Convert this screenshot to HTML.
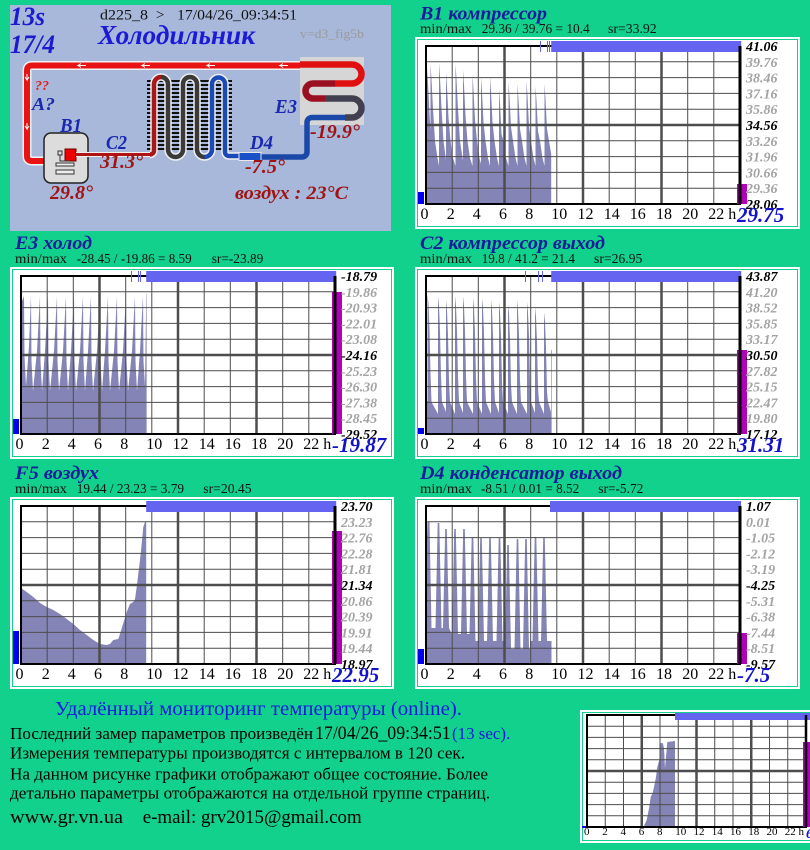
<!DOCTYPE html>
<html><head><meta charset="utf-8">
<style>html,body{margin:0;padding:0;background:#12d18d;width:810px;height:850px;overflow:hidden}svg{display:block}</style>
</head><body>
<svg width="810" height="850" viewBox="0 0 810 850" xmlns="http://www.w3.org/2000/svg" xmlns:xlink="http://www.w3.org/1999/xlink" font-family="'Liberation Serif', serif">
<defs>
<pattern id="hl" width="4" height="4" patternUnits="userSpaceOnUse"><rect width="4" height="2" fill="#111"/></pattern>
<g id="grid" fill="none">
<path stroke="#4d4d4d" stroke-width="1" d="M26.2,0V158M52.3,0V158M104.7,0V158M130.8,0V158M183.2,0V158M209.3,0V158M261.7,0V158M287.8,0V158M0,15.8H314M0,31.6H314M0,47.4H314M0,63.2H314M0,94.8H314M0,110.6H314M0,126.4H314M0,142.2H314"/>
<path stroke="#4d4d4d" stroke-width="2.5" d="M78.5,0V158M157,0V158M235.5,0V158M0,79H314"/>
<rect x="0" y="0" width="314" height="158" stroke="#000" stroke-width="2"/>
</g>
</defs>
<rect width="810" height="850" fill="#12d18d"/>

<!-- ===== Diagram ===== -->
<rect x="10" y="5" width="381" height="226" fill="#a8b8da"/>
<rect x="147" y="79" width="85" height="72" fill="url(#hl)"/>
<path d="M300,65.5H32Q27,65.5 27,70.5V156Q27,161 32,161H46" fill="none" stroke="#f2f2f2" stroke-width="9"/>
<path d="M300,65.5H32Q27,65.5 27,70.5V156Q27,161 32,161H46" fill="none" stroke="#e81414" stroke-width="6"/>
<path d="M86,65.5h-8l3,-2m-3,2l3,2M150,65.5h-8l3,-2m-3,2l3,2M215,65.5h-8l3,-2m-3,2l3,2M288,65.5h-8l3,-2m-3,2l3,2M27,74v6l-2,-3m2,3l2,-3M27,123v6l-2,-3m2,3l2,-3" fill="none" stroke="#fff" stroke-width="1"/>
<rect x="300" y="57" width="64" height="68" fill="#d6d6d6"/>
<path d="M300,64.5H352A9.5,9.5 0 0 1 352,83.5H335" fill="none" stroke="#e01010" stroke-width="6.5"/>
<path d="M335,83.5H313A7.5,7.5 0 0 0 313,98.5H325" fill="none" stroke="#9a1020" stroke-width="6.5"/>
<path d="M325,98.5H352A9.5,9.5 0 0 1 352,117.5H345" fill="none" stroke="#404050" stroke-width="6.5"/>
<path d="M345,117.5H312A5,5 0 0 0 307,122.5V152A5,5 0 0 1 302,157H261" fill="none" stroke="#1a48a8" stroke-width="5.5"/>
<!-- compressor -->
<rect x="44" y="133" width="44" height="50" rx="7" fill="#dcdcdc" stroke="#222" stroke-width="1.5"/>
<rect x="65" y="149" width="11" height="12" fill="#e00" stroke="#600" stroke-width="1"/>
<rect x="58" y="151" width="4" height="4" fill="none" stroke="#333" stroke-width="1"/>
<path d="M60,155V161H70" fill="none" stroke="#333" stroke-width="1"/>
<rect x="56" y="163" width="18" height="3" fill="#eee" stroke="#333" stroke-width="1"/>
<rect x="56" y="170" width="18" height="4" fill="#eee" stroke="#333" stroke-width="1"/>
<!-- C2 line + condenser tubes -->
<path d="M76,154.5H150" fill="none" stroke="#f0f0f0" stroke-width="5"/>
<path d="M150,154.5A4,4 0 0 0 154,150.5V84A7,7 0 0 1 168,84V149.5A7.5,7.5 0 0 0 183,149.5V84A7,7 0 0 1 197,84V149.5A7.5,7.5 0 0 0 212,149.5V84A6.5,6.5 0 0 1 225,84V152A4,4 0 0 0 229,156H240" fill="none" stroke="#f0f0f0" stroke-width="7.5"/>
<path d="M76,154.5H150" fill="none" stroke="#b01515" stroke-width="3"/>
<path d="M150,154.5A4,4 0 0 0 154,150.5V84A7,7 0 0 1 161,77" fill="none" stroke="#a81818" stroke-width="4.5"/>
<path d="M161,77A7,7 0 0 1 168,84V149.5A7.5,7.5 0 0 0 183,149.5V84A7,7 0 0 1 197,84V149.5A7.5,7.5 0 0 0 204.5,157" fill="none" stroke="#3a3a3a" stroke-width="4.5"/>
<path d="M204.5,157A7.5,7.5 0 0 0 212,149.5V84A6.5,6.5 0 0 1 225,84V152A4,4 0 0 0 229,156H240" fill="none" stroke="#1a4ab8" stroke-width="4.5"/>
<rect x="239" y="152.5" width="22" height="8" fill="#1a50c8" stroke="#e8e8e8" stroke-width="1"/>
<!-- diagram texts -->
<g font-weight="bold" font-style="italic">
<text x="10" y="25" font-size="26" fill="#1a1ad0" textLength="35" lengthAdjust="spacingAndGlyphs">13s</text>
<text x="10" y="53" font-size="26" fill="#1a1ad0" textLength="45" lengthAdjust="spacingAndGlyphs">17/4</text>
<text x="98" y="44" font-size="27" fill="#1a1ad8" textLength="157" lengthAdjust="spacingAndGlyphs">Холодильник</text>
<text x="35" y="90" font-size="14" fill="#e02020">??</text>
<text x="32" y="110" font-size="18" fill="#1a2aa8" textLength="23" lengthAdjust="spacingAndGlyphs">A?</text>
<text x="60" y="132" font-size="20" fill="#1a28b0" textLength="22" lengthAdjust="spacingAndGlyphs">B1</text>
<text x="106" y="149" font-size="20" fill="#1a28b0" textLength="21" lengthAdjust="spacingAndGlyphs">C2</text>
<text x="250" y="149" font-size="20" fill="#1a28b0" textLength="23" lengthAdjust="spacingAndGlyphs">D4</text>
<text x="275" y="113" font-size="20" fill="#1a28b0" textLength="22" lengthAdjust="spacingAndGlyphs">E3</text>
<text x="100" y="168" font-size="20" fill="#a01414" textLength="43" lengthAdjust="spacingAndGlyphs">31.3°</text>
<text x="50" y="199" font-size="20" fill="#a01414" textLength="43" lengthAdjust="spacingAndGlyphs">29.8°</text>
<text x="245" y="173" font-size="20" fill="#a01414" textLength="40" lengthAdjust="spacingAndGlyphs">-7.5°</text>
<text x="310" y="138" font-size="20" fill="#a01414" textLength="50" lengthAdjust="spacingAndGlyphs">-19.9°</text>
<text x="235" y="199" font-size="19" fill="#a01414" textLength="113" lengthAdjust="spacingAndGlyphs">воздух : 23°C</text>
</g>
<g font-size="15" fill="#111">
<text x="100" y="19.5" textLength="48" lengthAdjust="spacingAndGlyphs">d225_8</text>
<text x="156" y="19.5">&gt;</text>
<text x="177" y="19.5" textLength="120" lengthAdjust="spacingAndGlyphs">17/04/26_09:34:51</text>
</g>
<text x="300" y="38" font-size="13" fill="#9a9a9a" textLength="64" lengthAdjust="spacingAndGlyphs">v=d3_fig5b</text>

<!-- ===== Chart titles ===== -->
<g font-weight="bold" font-style="italic" font-size="19" fill="#1a1a9c">
<text x="420" y="19.5" textLength="127" lengthAdjust="spacingAndGlyphs">B1 компрессор</text>
<text x="15" y="249" textLength="77" lengthAdjust="spacingAndGlyphs">E3 холод</text>
<text x="420" y="249" textLength="185" lengthAdjust="spacingAndGlyphs">C2 компрессор выход</text>
<text x="15" y="479" textLength="84" lengthAdjust="spacingAndGlyphs">F5 воздух</text>
<text x="420" y="479" textLength="202" lengthAdjust="spacingAndGlyphs">D4 конденсатор выход</text>
</g>
<g font-size="14" fill="#111">
<text x="420" y="33" textLength="52" lengthAdjust="spacingAndGlyphs">min/max</text>
<text x="481.7" y="33" textLength="108" lengthAdjust="spacingAndGlyphs">29.36 / 39.76 = 10.4</text>
<text x="608" y="33" textLength="48.7" lengthAdjust="spacingAndGlyphs">sr=33.92</text>
<text x="15" y="263" textLength="52" lengthAdjust="spacingAndGlyphs">min/max</text>
<text x="76.7" y="263" textLength="115" lengthAdjust="spacingAndGlyphs">-28.45 / -19.86 = 8.59</text>
<text x="211.7" y="263" textLength="51.6" lengthAdjust="spacingAndGlyphs">sr=-23.89</text>
<text x="420" y="263" textLength="52" lengthAdjust="spacingAndGlyphs">min/max</text>
<text x="481.7" y="263" textLength="93.3" lengthAdjust="spacingAndGlyphs">19.8 / 41.2 = 21.4</text>
<text x="594" y="263" textLength="48.3" lengthAdjust="spacingAndGlyphs">sr=26.95</text>
<text x="15" y="493" textLength="52" lengthAdjust="spacingAndGlyphs">min/max</text>
<text x="76.7" y="493" textLength="107.3" lengthAdjust="spacingAndGlyphs">19.44 / 23.23 = 3.79</text>
<text x="203.3" y="493" textLength="48.3" lengthAdjust="spacingAndGlyphs">sr=20.45</text>
<text x="420" y="493" textLength="52" lengthAdjust="spacingAndGlyphs">min/max</text>
<text x="481" y="493" textLength="98.3" lengthAdjust="spacingAndGlyphs">-8.51 / 0.01 = 8.52</text>
<text x="598.3" y="493" textLength="45" lengthAdjust="spacingAndGlyphs">sr=-5.72</text>
</g>

<!-- ===== Panels ===== -->
<g>
<rect x="415" y="37" width="385" height="192" fill="#fff"/><rect x="417.5" y="39.5" width="380" height="187" fill="none" stroke="#12d18d"/>
<rect x="10" y="267" width="384" height="192" fill="#fff"/><rect x="12.5" y="269.5" width="379" height="187" fill="none" stroke="#12d18d"/>
<rect x="415" y="267" width="385" height="192" fill="#fff"/><rect x="417.5" y="269.5" width="380" height="187" fill="none" stroke="#12d18d"/>
<rect x="10" y="497" width="384" height="192" fill="#fff"/><rect x="12.5" y="499.5" width="379" height="187" fill="none" stroke="#12d18d"/>
<rect x="415" y="497" width="385" height="192" fill="#fff"/><rect x="417.5" y="499.5" width="380" height="187" fill="none" stroke="#12d18d"/>
<rect x="580" y="710" width="232" height="133" fill="#fff"/><rect x="582.5" y="712.5" width="232" height="128" fill="none" stroke="#12d18d"/>
</g>

<!-- ===== B1 ===== -->
<g transform="translate(426,46)">
<path fill="#8484b6" d="M0,158 L0,80 L1,80 L1,22 L2,37 L3.5,67 L4.5,85 L4.5,18 L5.5,33 L7,63 L9,95 L11.5,112 L13,120 L13,17 L14,32 L15.5,62 L17.5,95 L20,114 L20,26 L21,41 L22.5,71 L24.5,95 L27,112 L29.5,120 L29.5,18 L30.5,33 L32,63 L34,95 L36.5,112 L37,114 L37,24 L38,39 L39.5,69 L41.5,95 L44,112 L46.5,120 L46.5,29 L47.5,44 L49,74 L51,95 L53.5,112 L55,118 L55,31 L56,46 L57.5,76 L59.5,95 L62,112 L64,120 L64,31 L65,46 L66.5,76 L68.5,95 L71,112 L73,120 L73,43 L74,58 L75.5,88 L77.5,95 L80,112 L82.5,120 L82.5,36 L83.5,51 L85,81 L87,95 L89.5,112 L91.5,120 L91.5,38 L92.5,53 L94,83 L96,95 L98.5,112 L100.5,120 L100.5,35 L101.5,50 L103,80 L105,95 L107.5,112 L109.5,120 L109.5,40 L110.5,55 L112,85 L114,95 L116.5,112 L118.5,120 L118.5,38 L119.5,53 L121,83 L123,95 L125.2,108 L125.2,158 Z"/>
<use xlink:href="#grid" href="#grid"/>
<rect x="125.2" y="-5" width="190" height="11" fill="#6464f0"/>
<rect x="114" y="-5" width="1" height="11" fill="#6464f0"/><rect x="121" y="-5" width="1" height="11" fill="#6464f0"/><rect x="123" y="-5" width="1" height="11" fill="#6464f0"/>
<rect x="311" y="138" width="10" height="20" fill="#b000b8"/>
<path d="M314,0V158" stroke="#000" stroke-width="3"/>
<rect x="-8" y="146" width="6" height="12" fill="#0000f0"/>
<g font-size="14" font-weight="bold" font-style="italic" fill="#a3a3a3">
<text x="320" y="5" fill="#000">41.06</text><text x="320" y="20.8">39.76</text><text x="320" y="36.6">38.46</text><text x="320" y="52.4">37.16</text><text x="320" y="68.2">35.86</text><text x="320" y="84" fill="#000">34.56</text><text x="320" y="99.8">33.26</text><text x="320" y="115.6">31.96</text><text x="320" y="131.4">30.66</text><text x="320" y="147.2">29.36</text><text x="320" y="163" fill="#000">28.06</text>
</g>
<g font-size="16" fill="#000"><text x="-5.5" y="173">0</text><text x="20.7" y="173">2</text><text x="46.8" y="173">4</text><text x="73" y="173">6</text><text x="99.2" y="173">8</text><text x="125.3" y="173">10</text><text x="151.5" y="173">12</text><text x="177.7" y="173">14</text><text x="203.8" y="173">16</text><text x="230" y="173">18</text><text x="256.2" y="173">20</text><text x="282.3" y="173">22 h</text></g>
<text x="311" y="176" font-size="21" font-weight="bold" font-style="italic" fill="#1212cc">29.75</text>
</g>

<!-- ===== E3 ===== -->
<g transform="translate(21,276)">
<path fill="#8484b6" d="M0,158 L0,60 L1,25 L3,20 L3.5,80 L5,110 L8,70 L10,19 L10.5,85 L12,115 L16,75 L19,20 L19.5,85 L21,115 L24,75 L27,20 L27.5,85 L29,115 L33,75 L36,20 L36.5,85 L38,115 L42,75 L45,20 L45.5,85 L47,115 L50,75 L53,20 L53.5,85 L55,115 L59,75 L62,20 L62.5,85 L64,115 L67,75 L70,20 L70.5,85 L72,115 L76,75 L79,20 L79.5,85 L81,115 L84,75 L87,20 L87.5,85 L89,115 L93,75 L96,20 L96.5,85 L98,115 L102,75 L105,20 L105.5,85 L107,115 L111,75 L114,20 L114.5,85 L116,115 L119,75 L122,20 L122.5,85 L124,110 L125.2,20 L125.6,16 L125.6,158 Z"/>
<use xlink:href="#grid" href="#grid"/>
<rect x="125.2" y="-5" width="190" height="11" fill="#6464f0"/>
<rect x="110" y="-5" width="1" height="11" fill="#6464f0"/><rect x="117" y="-5" width="1" height="11" fill="#6464f0"/><rect x="119" y="-5" width="1" height="11" fill="#6464f0"/>
<rect x="311" y="16" width="10" height="142" fill="#b000b8"/>
<path d="M314,0V158" stroke="#000" stroke-width="3"/>
<rect x="-8" y="143" width="6" height="15" fill="#0000f0"/>
<g font-size="14" font-weight="bold" font-style="italic" fill="#a3a3a3">
<text x="320" y="5" fill="#000">-18.79</text><text x="320" y="20.8">-19.86</text><text x="320" y="36.6">-20.93</text><text x="320" y="52.4">-22.01</text><text x="320" y="68.2">-23.08</text><text x="320" y="84" fill="#000">-24.16</text><text x="320" y="99.8">-25.23</text><text x="320" y="115.6">-26.30</text><text x="320" y="131.4">-27.38</text><text x="320" y="147.2">-28.45</text><text x="320" y="163" fill="#000">-29.52</text>
</g>
<g font-size="16" fill="#000"><text x="-5.5" y="173">0</text><text x="20.7" y="173">2</text><text x="46.8" y="173">4</text><text x="73" y="173">6</text><text x="99.2" y="173">8</text><text x="125.3" y="173">10</text><text x="151.5" y="173">12</text><text x="177.7" y="173">14</text><text x="203.8" y="173">16</text><text x="230" y="173">18</text><text x="256.2" y="173">20</text><text x="282.3" y="173">22 h</text></g>
<text x="311" y="176" font-size="21" font-weight="bold" font-style="italic" fill="#1212cc">-19.87</text>
</g>

<!-- ===== C2 ===== -->
<g transform="translate(426,276)">
<path fill="#8484b6" d="M0,158 L0,125 L1.5,125 L1.5,18 L2.5,28 L3.5,53 L4.5,98 L5.5,126 L12,138 L12,20 L13,30 L14,55 L15,100 L16,126 L20,136 L20,24 L21,34 L22,59 L23,104 L24,126 L29,138 L29,20 L30,30 L31,55 L32,100 L33,126 L37,137 L37,20 L38,30 L39,55 L40,100 L41,126 L47,138 L47,22 L48,32 L49,57 L50,102 L51,126 L56,138 L56,22 L57,32 L58,57 L59,102 L60,126 L65,138 L65,24 L66,34 L67,59 L68,104 L69,126 L73,137 L73,26 L74,36 L75,61 L76,106 L77,126 L82,138 L82,28 L83,38 L84,63 L85,108 L86,126 L91,138 L91,24 L92,34 L93,59 L94,104 L95,126 L101,138 L101,26 L102,36 L103,61 L104,106 L105,126 L109,137 L109,31 L110,41 L111,66 L112,111 L113,126 L118,138 L118,36 L119,46 L120,71 L121,116 L122,126 L125,136 L125,74 L125.6,74 L125.6,158 Z"/>
<use xlink:href="#grid" href="#grid"/>
<rect x="125.2" y="-5" width="190" height="11" fill="#6464f0"/>
<rect x="99" y="-5" width="1" height="11" fill="#6464f0"/><rect x="112" y="-5" width="1" height="11" fill="#6464f0"/><rect x="116" y="-5" width="1" height="11" fill="#6464f0"/>
<rect x="311" y="74" width="10" height="84" fill="#b000b8"/>
<path d="M314,0V158" stroke="#000" stroke-width="3"/>
<rect x="-8" y="152" width="6" height="6" fill="#0000f0"/>
<g font-size="14" font-weight="bold" font-style="italic" fill="#a3a3a3">
<text x="320" y="5" fill="#000">43.87</text><text x="320" y="20.8">41.20</text><text x="320" y="36.6">38.52</text><text x="320" y="52.4">35.85</text><text x="320" y="68.2">33.17</text><text x="320" y="84" fill="#000">30.50</text><text x="320" y="99.8">27.82</text><text x="320" y="115.6">25.15</text><text x="320" y="131.4">22.47</text><text x="320" y="147.2">19.80</text><text x="320" y="163" fill="#000">17.12</text>
</g>
<g font-size="16" fill="#000"><text x="-5.5" y="173">0</text><text x="20.7" y="173">2</text><text x="46.8" y="173">4</text><text x="73" y="173">6</text><text x="99.2" y="173">8</text><text x="125.3" y="173">10</text><text x="151.5" y="173">12</text><text x="177.7" y="173">14</text><text x="203.8" y="173">16</text><text x="230" y="173">18</text><text x="256.2" y="173">20</text><text x="282.3" y="173">22 h</text></g>
<text x="311" y="176" font-size="21" font-weight="bold" font-style="italic" fill="#1212cc">31.31</text>
</g>

<!-- ===== F5 ===== -->
<g transform="translate(21,506)">
<path fill="#8484b6" d="M0,158 L0,82 L1,82.7 L5.7,86 L12.3,91 L19,97 L25.7,101 L32.3,104 L39,108 L45.7,113 L52.3,118 L59,124 L65.7,129 L72.3,134 L79,138 L85.7,139 L89,138 L92.3,134 L97.3,133 L99,128 L102,118 L105.7,106 L109,98 L112.3,96 L114,93 L115.7,81 L119,54 L120.7,38 L122.3,21 L124,16 L125.2,16 L125.2,158 Z"/>
<use xlink:href="#grid" href="#grid"/>
<rect x="125.2" y="-5" width="190" height="11" fill="#6464f0"/>
<rect x="311" y="25" width="10" height="133" fill="#b000b8"/>
<path d="M314,0V158" stroke="#000" stroke-width="3"/>
<rect x="-8" y="125" width="6" height="33" fill="#0000f0"/>
<g font-size="14" font-weight="bold" font-style="italic" fill="#a3a3a3">
<text x="320" y="5" fill="#000">23.70</text><text x="320" y="20.8">23.23</text><text x="320" y="36.6">22.76</text><text x="320" y="52.4">22.28</text><text x="320" y="68.2">21.81</text><text x="320" y="84" fill="#000">21.34</text><text x="320" y="99.8">20.86</text><text x="320" y="115.6">20.39</text><text x="320" y="131.4">19.91</text><text x="320" y="147.2">19.44</text><text x="320" y="163" fill="#000">18.97</text>
</g>
<g font-size="16" fill="#000"><text x="-5.5" y="173">0</text><text x="20.7" y="173">2</text><text x="46.8" y="173">4</text><text x="73" y="173">6</text><text x="99.2" y="173">8</text><text x="125.3" y="173">10</text><text x="151.5" y="173">12</text><text x="177.7" y="173">14</text><text x="203.8" y="173">16</text><text x="230" y="173">18</text><text x="256.2" y="173">20</text><text x="282.3" y="173">22 h</text></g>
<text x="311" y="176" font-size="21" font-weight="bold" font-style="italic" fill="#1212cc">22.95</text>
</g>

<!-- ===== D4 ===== -->
<g transform="translate(426,506)">
<path fill="#8484b6" d="M0,158 L0,60 L1.5,16 L3.5,16 L5.5,122 L9.5,122 L11.7,17 L13.3,17 L15.5,122 L17,122 L19.2,23 L20.8,23 L23,122 L26,128 L28.2,23 L29.8,23 L32,128 L35,128 L37.2,23 L38.8,23 L41,128 L43.5,128 L45.7,31 L47.3,31 L49.5,135 L52,135 L54.2,32 L55.8,32 L58,135 L61,135 L63.2,32 L64.8,32 L67,135 L70.5,135 L72.7,32 L74.3,32 L76.5,135 L79,135 L79,143 L81.2,39 L82.8,39 L85,143 L88.5,143 L90.7,33 L92.3,33 L94.5,143 L97,143 L99.2,33 L100.8,33 L103,143 L104,143 L104,135 L106.5,135 L108.7,31 L110.3,31 L112.5,135 L115,135 L117.2,32 L118.8,32 L121,135 L125.5,135 L125.5,158 Z"/>
<use xlink:href="#grid" href="#grid"/>
<rect x="124" y="-5" width="191" height="11" fill="#6464f0"/>
<rect x="311" y="127" width="10" height="31" fill="#b000b8"/>
<path d="M314,0V158" stroke="#000" stroke-width="3"/>
<rect x="-8" y="143" width="6" height="15" fill="#0000f0"/>
<g font-size="14" font-weight="bold" font-style="italic" fill="#a3a3a3">
<text x="320" y="5" fill="#000">1.07</text><text x="320" y="20.8">0.01</text><text x="320" y="36.6">-1.05</text><text x="320" y="52.4">-2.12</text><text x="320" y="68.2">-3.19</text><text x="320" y="84" fill="#000">-4.25</text><text x="320" y="99.8">-5.31</text><text x="320" y="115.6">-6.38</text><text x="320" y="131.4">-7.44</text><text x="320" y="147.2">-8.51</text><text x="320" y="163" fill="#000">-9.57</text>
</g>
<g font-size="16" fill="#000"><text x="-5.5" y="173">0</text><text x="20.7" y="173">2</text><text x="46.8" y="173">4</text><text x="73" y="173">6</text><text x="99.2" y="173">8</text><text x="125.3" y="173">10</text><text x="151.5" y="173">12</text><text x="177.7" y="173">14</text><text x="203.8" y="173">16</text><text x="230" y="173">18</text><text x="256.2" y="173">20</text><text x="282.3" y="173">22 h</text></g>
<text x="311" y="176" font-size="21" font-weight="bold" font-style="italic" fill="#1212cc">-7.5</text>
</g>

<!-- ===== Small chart ===== -->
<g transform="translate(587,715)">
<path fill="#8484b6" d="M56,112 L57,111 L59.7,105 L62.3,92 L63.7,82 L65.7,78 L67,72 L69,62 L70.3,52 L72.3,45 L73.7,28 L75.7,28 L77,33 L78,53 L79,42 L80.3,27 L88,26 L88,112 Z"/>
<g fill="none">
<path stroke="#4d4d4d" stroke-width="1" d="M18.25,0V112M36.5,0V112M73,0V112M91.25,0V112M127.75,0V112M146,0V112M182.5,0V112M200.75,0V112M0,11.2H219M0,22.4H219M0,33.6H219M0,44.8H219M0,67.2H219M0,78.4H219M0,89.6H219M0,100.8H219"/>
<path stroke="#4d4d4d" stroke-width="2.5" d="M54.75,0V112M109.5,0V112M164.25,0V112M0,56H219"/>
<rect x="0" y="0" width="219" height="112" stroke="#000" stroke-width="2"/>
</g>
<rect x="88" y="-2" width="140" height="7" fill="#6464f0"/>
<rect x="216" y="27" width="10" height="85" fill="#b000b8"/>
<path d="M219,0V112" stroke="#000" stroke-width="2.5"/>
<rect x="-5" y="111" width="4" height="2" fill="#0000f0"/>
<g font-size="11" fill="#000"><text x="-3" y="120">0</text><text x="15.25" y="120">2</text><text x="33.5" y="120">4</text><text x="51.75" y="120">6</text><text x="70" y="120">8</text><text x="88.25" y="120">10</text><text x="106.5" y="120">12</text><text x="124.75" y="120">14</text><text x="143" y="120">16</text><text x="161.25" y="120">18</text><text x="179.5" y="120">20</text><text x="197.75" y="120">22 h</text></g>
<text x="219" y="123" font-size="14" font-weight="bold" font-style="italic" fill="#1212cc">6</text>
</g>

<!-- ===== Bottom text ===== -->
<text x="55" y="715" font-size="20" fill="#1818e0" textLength="407" lengthAdjust="spacingAndGlyphs">Удалённый мониторинг температуры (online).</text>
<g font-size="17" fill="#000">
<text x="10" y="739" textLength="303" lengthAdjust="spacingAndGlyphs">Последний замер параметров произведён</text>
<text x="315" y="739" font-size="19" textLength="135.7" lengthAdjust="spacingAndGlyphs">17/04/26_09:34:51</text>
<text x="452" y="739" fill="#1818e0" textLength="58.3" lengthAdjust="spacingAndGlyphs">(13 sec).</text>
<text x="10" y="758.3" textLength="455" lengthAdjust="spacingAndGlyphs">Измерения температуры  производятся с интервалом в 120 сек.</text>
<text x="10" y="779.3" textLength="478" lengthAdjust="spacingAndGlyphs">На данном рисунке графики отображают общее состояние. Более</text>
<text x="10" y="798.3" textLength="480" lengthAdjust="spacingAndGlyphs">детально параметры отображаются на отдельной группе страниц.</text>
<text x="10" y="823" font-size="19" textLength="113" lengthAdjust="spacingAndGlyphs">www.gr.vn.ua</text>
<text x="142.7" y="823" font-size="19" textLength="219" lengthAdjust="spacingAndGlyphs">e-mail: grv2015@gmail.com</text>
</g>
</svg>
</body></html>
